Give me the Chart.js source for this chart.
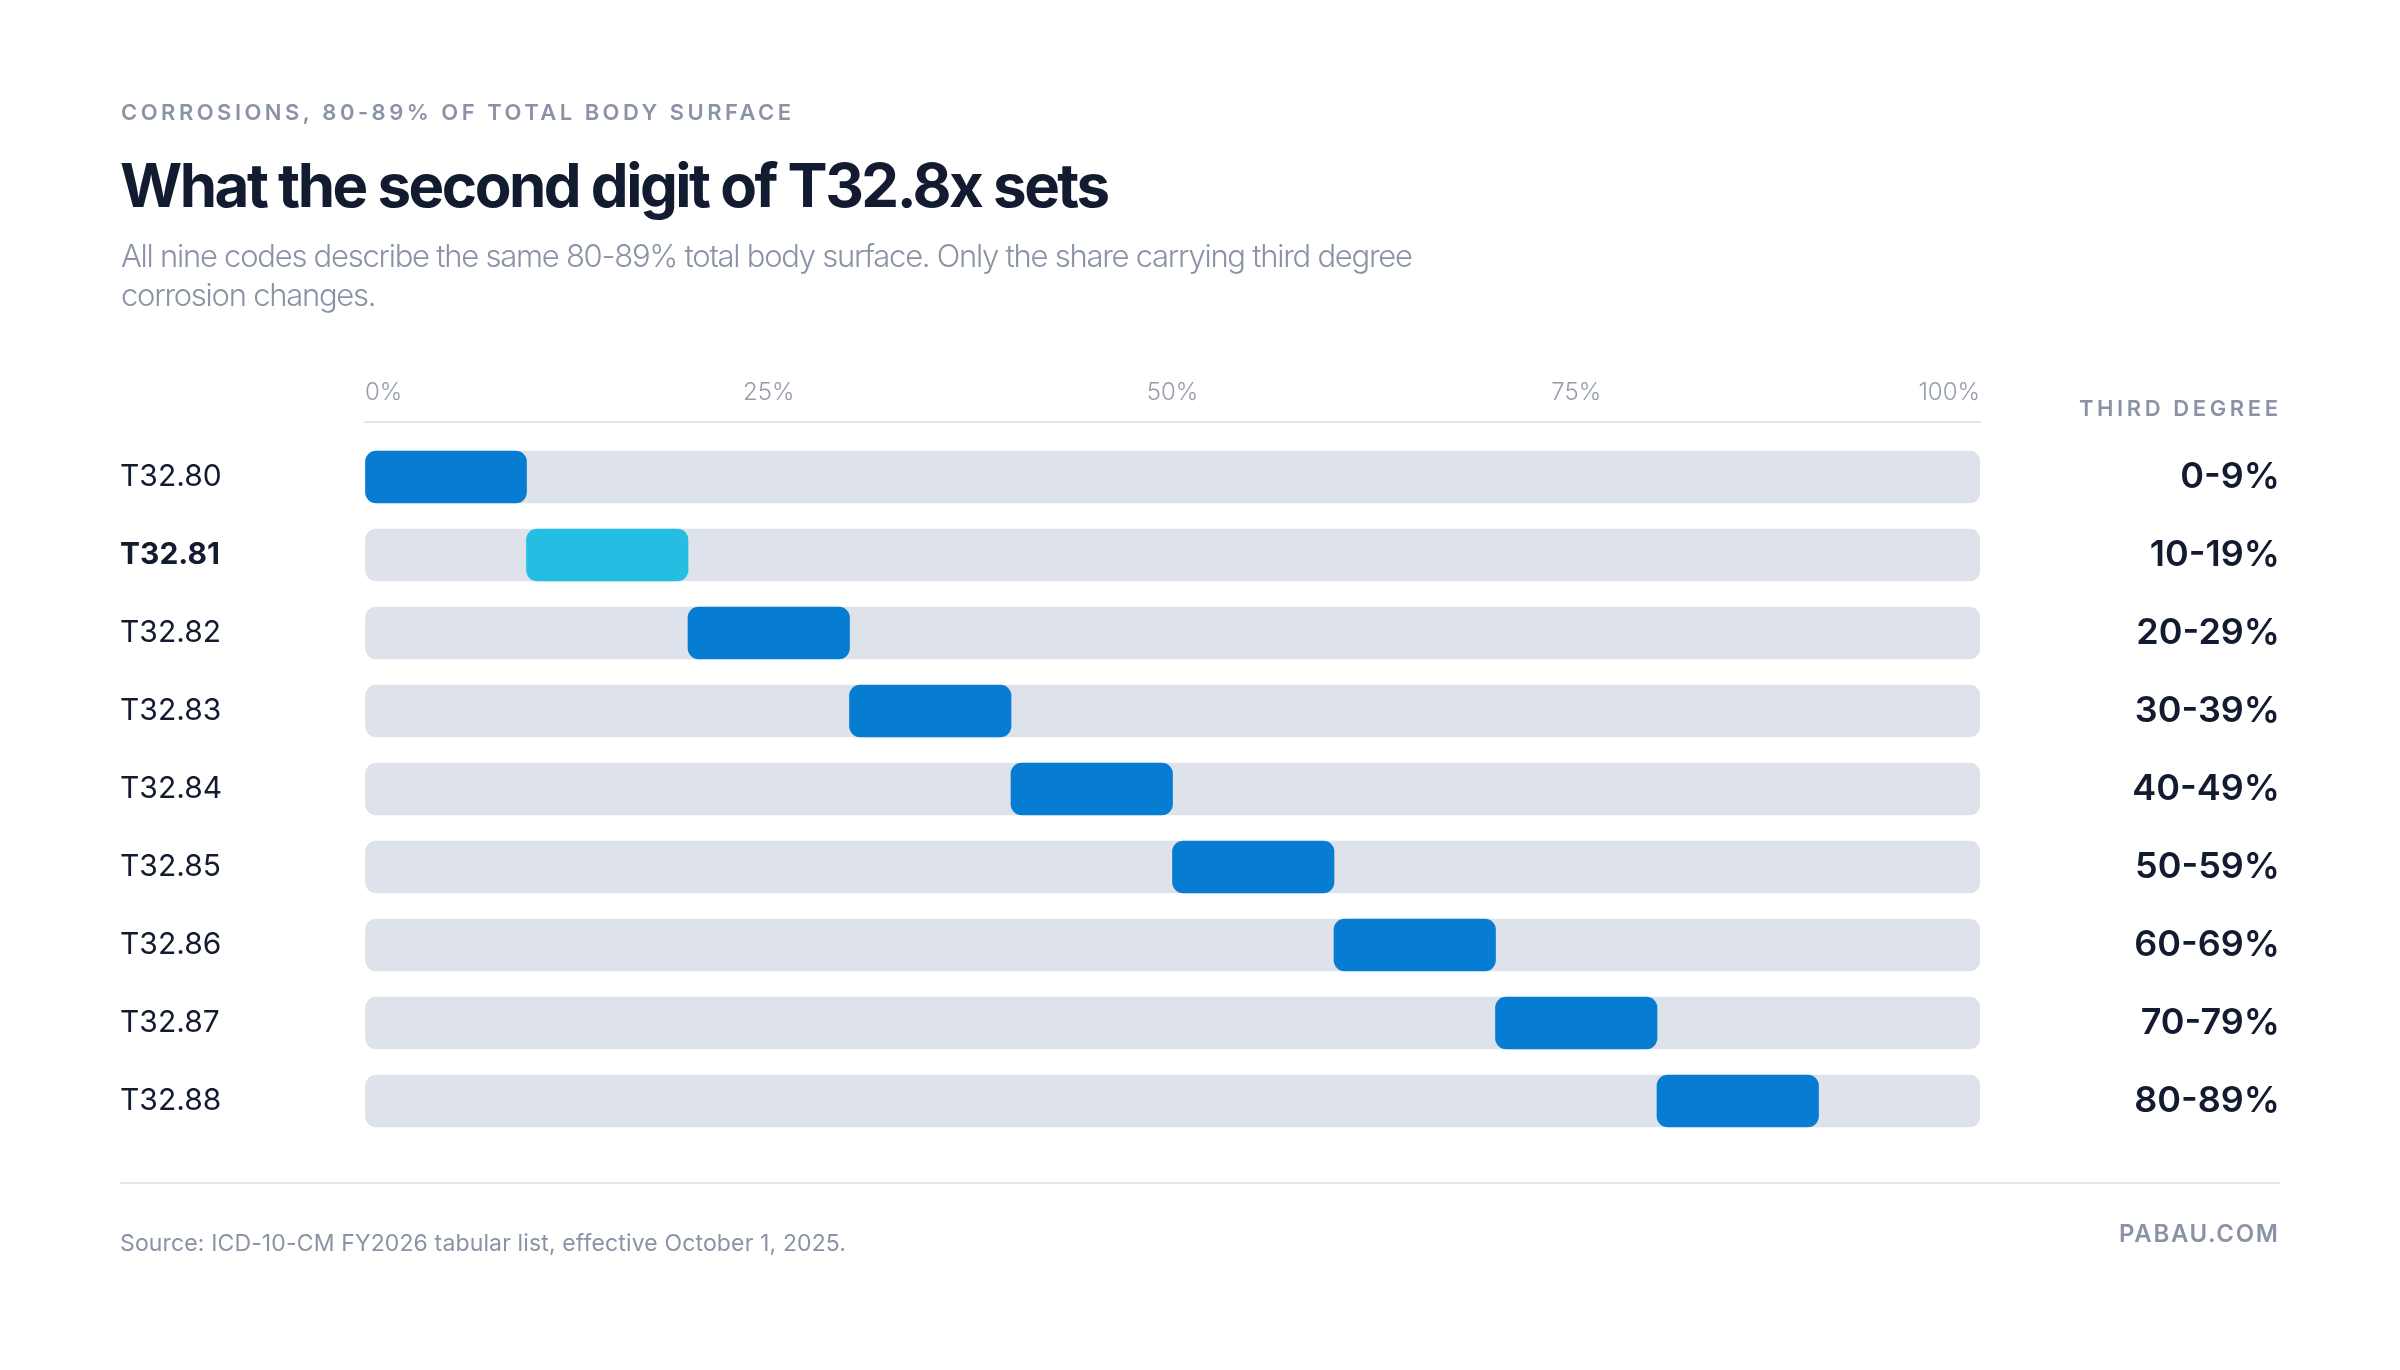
<!DOCTYPE html>
<html>
<head>
<meta charset="utf-8">
<script src="https://cdn.jsdelivr.net/npm/chart.js@4.4.1/dist/chart.umd.min.js"></script>
<style>
  html, body { margin: 0; padding: 0; background: #ffffff; }
  #wrap { position: relative; width: 2400px; height: 1370px; }
  canvas { display: block; }
</style>
</head>
<body>
<div id="wrap"><canvas id="c" width="2400" height="1370"></canvas></div>
<script>
// ---------- data ----------
const codes = ['T32.80', 'T32.81', 'T32.82', 'T32.83', 'T32.84', 'T32.85', 'T32.86', 'T32.87', 'T32.88'];
const degreeLabels = ['0-9%', '10-19%', '20-29%', '30-39%', '40-49%', '50-59%', '60-69%', '70-79%', '80-89%'];
const shareStart = [0, 10, 20, 30, 40, 50, 60, 70, 80];
const shareEnd = [10, 20, 30, 40, 50, 60, 70, 80, 90];
const trackStart = [0, 0, 0, 0, 0, 0, 0, 0, 0];
const trackEnd = [100, 100, 100, 100, 100, 100, 100, 100, 100];
const xTickValues = [0, 25, 50, 75, 100];
const xTickLabels = ['0%', '25%', '50%', '75%', '100%'];
const highlightIndex = 1;

const eyebrow = 'CORROSIONS, 80-89% OF TOTAL BODY SURFACE';
const title = 'What the second digit of T32.8x sets';
const subtitle1 = 'All nine codes describe the same 80-89% total body surface. Only the share carrying third degree';
const subtitle2 = 'corrosion changes.';
const columnHead = 'THIRD DEGREE';
const source = 'Source: ICD-10-CM FY2026 tabular list, effective October 1, 2025.';
const brand = 'PABAU.COM';

// ---------- styles ----------
const NAVY = '#131b31';
const GRAY = '#8a93a6';
const BLUE = '#067cd3';
const CYAN = '#25bde1';
const TRACK = '#dde2eb';
const RULE = '#e3e6ec';

function drawText(ctx, text, x, baseline, font, color, opts) {
  opts = opts || {};
  ctx.save();
  ctx.font = font;
  ctx.fillStyle = color;
  ctx.textBaseline = 'alphabetic';
  ctx.textAlign = 'left';
  const hasLS = 'letterSpacing' in ctx;
  if (hasLS) ctx.letterSpacing = '0px';
  const natural = ctx.measureText(text).width;
  let ls = 0;
  if (opts.ls !== undefined) ls = opts.ls;
  else if (opts.width) ls = (opts.width - natural) / (text.length - 1);
  const total = natural + ls * (text.length - 1);
  const startX = opts.align === 'right' ? x - total : x;
  if (hasLS) {
    ctx.letterSpacing = ls + 'px';
    ctx.fillText(text, startX, baseline);
  } else {
    ctx.translate(startX, baseline);
    ctx.scale(total / natural, 1);
    ctx.fillText(text, 0, 0);
  }
  ctx.restore();
  return ls;
}

const decorPlugin = {
  id: 'decor',
  afterDraw(chart) {
    const ctx = chart.ctx;
    drawText(ctx, eyebrow, 121, 120, '600 22px Inter', GRAY, { width: 670 });
    drawText(ctx, title, 120, 207, '700 60px Inter', NAVY, { width: 990 });
    const ls = drawText(ctx, subtitle1, 121, 267, '300 31px Inter', GRAY, { width: 1292 });
    drawText(ctx, subtitle2, 121, 306, '300 31px Inter', GRAY, { ls: ls });
    drawText(ctx, columnHead, 2278, 416, '600 22px Inter', GRAY, { width: 199, align: 'right' });
    ctx.save();
    ctx.fillStyle = RULE;
    ctx.fillRect(120, 1182, 2160, 2);
    ctx.restore();
    drawText(ctx, source, 120, 1251, '400 23px Inter', GRAY, { width: 726 });
    drawText(ctx, brand, 2278, 1242, '600 24px Inter', GRAY, { width: 159, align: 'right' });
  }
};

const yMin = -0.705;
const yMax = codes.length - 1 + 0.705;

new Chart(document.getElementById('c'), {
  type: 'bar',
  data: {
    datasets: [
      {
        label: 'Third degree share',
        data: codes.map((c, i) => ({ x: [shareStart[i], shareEnd[i]], y: i })),
        backgroundColor: codes.map((c, i) => (i === highlightIndex ? CYAN : BLUE)),
        borderRadius: 11,
        borderSkipped: false,
        barThickness: 52,
        grouped: false,
        order: 0
      },
      {
        label: 'Total body surface',
        data: codes.map((c, i) => ({ x: [trackStart[i], trackEnd[i]], y: i })),
        backgroundColor: TRACK,
        borderRadius: 11,
        borderSkipped: false,
        barThickness: 52,
        grouped: false,
        order: 1
      }
    ]
  },
  options: {
    indexAxis: 'y',
    responsive: false,
    animation: false,
    events: [],
    layout: { padding: { left: 120, right: 120, top: 362, bottom: 214 } },
    plugins: {
      legend: { display: false },
      tooltip: { enabled: false },
      title: { display: false }
    },
    scales: {
      x: {
        type: 'linear',
        position: 'top',
        min: 0,
        max: 100,
        offset: false,
        afterBuildTicks: (s) => { s.ticks = xTickValues.map((v) => ({ value: v })); },
        afterFit: (s) => { s.height = 60; },
        ticks: {
          align: 'inner',
          padding: 15,
          color: '#959cac',
          font: { family: 'Inter', size: 24, weight: '300' },
          callback: (v) => xTickLabels[xTickValues.indexOf(v)]
        },
        grid: { display: true, offset: false, drawOnChartArea: false, drawTicks: false, color: 'rgba(0,0,0,0)' },
        border: { display: true, color: RULE, width: 2 }
      },
      y: {
        type: 'linear',
        position: 'left',
        reverse: true,
        min: yMin,
        max: yMax,
        offset: false,
        afterBuildTicks: (s) => { s.ticks = codes.map((c, i) => ({ value: i })); },
        afterFit: (s) => { s.width = 245; },
        ticks: {
          crossAlign: 'far',
          padding: 0,
          color: NAVY,
          font: (ctx) => ({
            family: 'Inter',
            size: 30,
            weight: ctx.tick && ctx.tick.value === highlightIndex ? '700' : '400'
          }),
          callback: (v) => codes[v]
        },
        grid: { display: false, offset: false },
        border: { display: false }
      },
      y2: {
        type: 'linear',
        position: 'right',
        reverse: true,
        min: yMin,
        max: yMax,
        offset: false,
        afterBuildTicks: (s) => { s.ticks = degreeLabels.map((c, i) => ({ value: i })); },
        afterFit: (s) => { s.width = 300; },
        ticks: {
          crossAlign: 'far',
          padding: 0,
          color: NAVY,
          font: { family: 'Inter', size: 36, weight: '600' },
          callback: (v) => degreeLabels[v]
        },
        grid: { display: false, offset: false },
        border: { display: false }
      }
    }
  },
  plugins: [decorPlugin]
});
</script>
</body>
</html>
